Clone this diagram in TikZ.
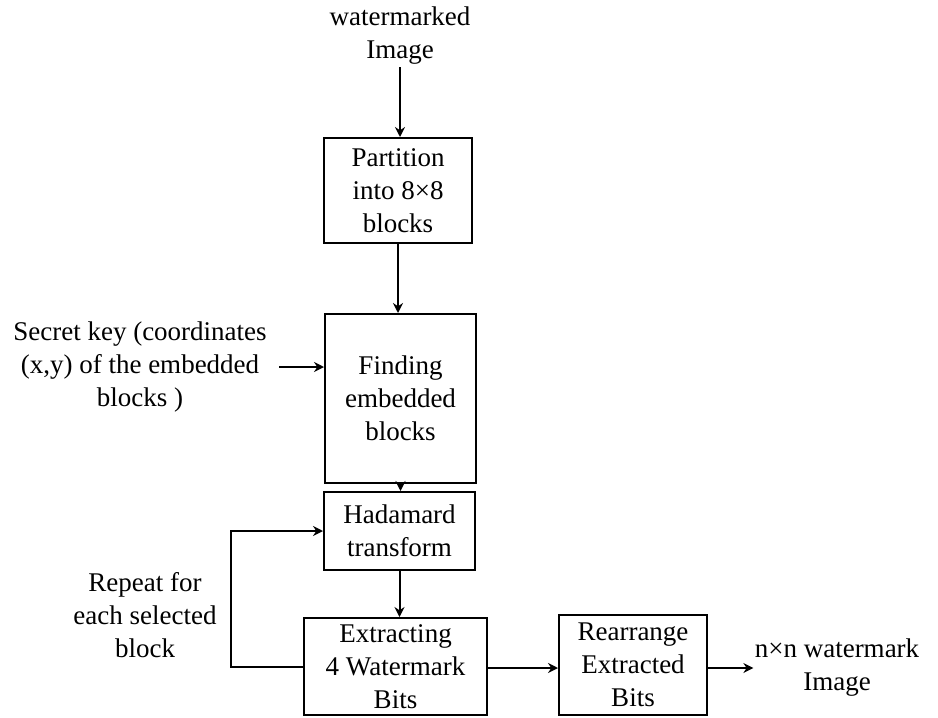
\documentclass[tikz,border=0pt]{standalone}
\usepackage{fontspec}
\setmainfont{Liberation Serif}
\usepackage{tikz}
\usetikzlibrary{arrows.meta,positioning}

\begin{document}
\begin{tikzpicture}[
    x=0.5pt, y=-0.5pt,
    font=\fontsize{13.5}{16.5}\selectfont,
    procbox/.style={draw, line width=1pt, align=center, inner sep=2pt},
    plain/.style={align=center, inner sep=1pt},
    arrow/.style={-{Stealth[length=5pt,width=5pt]}, line width=1pt}
]
\useasboundingbox (0,0) rectangle (938,718);
\node[plain] (wimg) at (400,36) {watermarked\\Image};
\node[procbox, minimum width=74pt, minimum height=52.5pt] (part) at (398,190.5) {Partition\\into 8×8\\blocks};
\node[procbox, minimum width=75.5pt, minimum height=84.5pt] (find) at (400.5,398.5) {Finding\\embedded\\blocks};
\node[plain, inner sep=6pt] (key) at (140,367) {Secret key (coordinates\\(x,y) of the embedded\\blocks )};
\node[procbox, minimum width=75.5pt, minimum height=39pt] (had) at (399.5,531) {Hadamard\\transform};
\node[procbox, minimum width=91.5pt, minimum height=48.5pt] (ext) at (395.5,666.5) {Extracting\\4 Watermark\\Bits};
\node[plain] (rep) at (145,615) {Repeat for\\each selected\\block};
\node[procbox, minimum width=74pt, minimum height=50pt] (rearr) at (633,665) {Rearrange\\Extracted\\Bits};
\node[plain, inner sep=0.5pt] (out) at (837,668) {n×n watermark\\Image};
% connectors
\draw[arrow] (wimg) -- (wimg |- part.north);
\draw[arrow] (part) -- (part |- find.north);
\draw[arrow] (key) -- (key -| find.west);
\draw[arrow] (find) -- (find |- had.north);
\draw[arrow] (had) -- (had |- ext.north);
\draw[arrow] (ext.west) -- ++(-72,0) |- (had.west);
\draw[arrow] (ext.east |- out) -- (rearr.west |- out);
\draw[arrow] (rearr.east |- out) -- (out);
\end{tikzpicture}
\end{document}
